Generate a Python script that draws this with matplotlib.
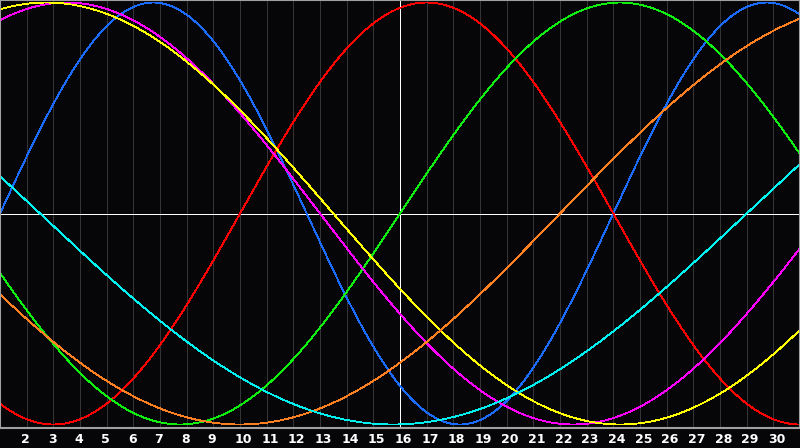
import numpy as np
import matplotlib
matplotlib.use('Agg')
import matplotlib.pyplot as plt
import matplotlib.transforms as mtransforms

# biorhythm cycles: length in days, position in the cycle on day 1, colour
periods = [23, 28, 33, 38, 43, 48, 53]
cycle_day_on_1st = [0, 19, 18, 7, 9, 27, 25]
colors = ['#1a6cff', '#ff0000', '#10ee10', '#ff00ff', '#ffff00', '#ff8020', '#00f0f0']

first_day = 1
last_day = 31
today = 16
day_labels = list(range(2, 31))

bg = '#060608'
fig = plt.figure(figsize=(8, 4.48), dpi=100, facecolor=bg)
ax = fig.add_axes([0, 20 / 448, 1, 428 / 448])
ax.set_facecolor(bg)

ax.set_xlim(first_day, last_day)
ax.set_ylim(-1.0166, 1.012)

# day grid
ax.set_xticks(day_labels)
ax.set_xticklabels([str(d) for d in day_labels])
ax.grid(axis='x', color='#353535', linewidth=0.72, antialiased=False)
ax.set_yticks([])
ax.tick_params(axis='x', length=0, colors='white', labelsize=9, pad=3.5)
# labels start a few pixels left of their grid line
shift = mtransforms.ScaledTranslation(-5.5 / 100, 0, fig.dpi_scale_trans)
for lbl in ax.get_xticklabels():
    lbl.set_fontweight('bold')
    lbl.set_horizontalalignment('left')
    lbl.set_transform(lbl.get_transform() + shift)

for sp in ax.spines.values():
    sp.set_color('#a0a0a0')
    sp.set_linewidth(1.5)

ax.axhline(0, color='white', linewidth=0.72, antialiased=False)
ax.axvline(today, color='white', linewidth=0.72, antialiased=False)

t = np.linspace(first_day, last_day, 1200)
for p, c0, col in zip(periods, cycle_day_on_1st, colors):
    y = np.sin(2 * np.pi * (c0 + t - first_day) / p)
    ax.plot(t, y, color=col, linewidth=0.6, antialiased=False)

fig.savefig('out.png', dpi=100, facecolor=bg)
